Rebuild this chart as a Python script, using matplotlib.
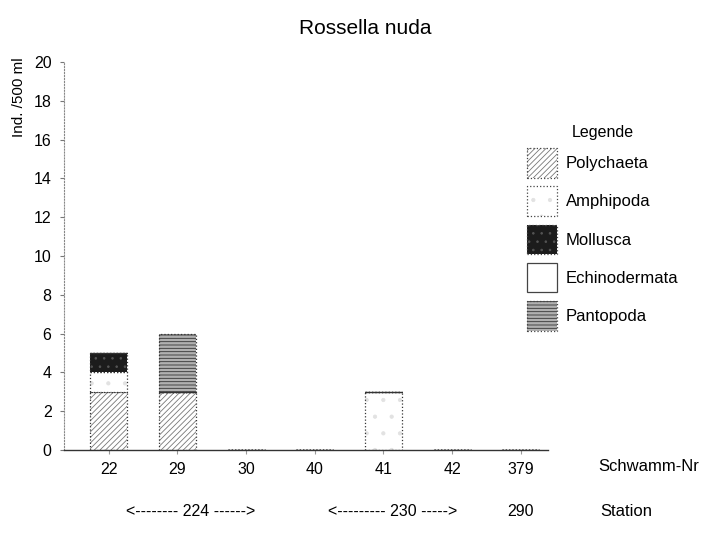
import matplotlib
matplotlib.use("Agg")
import matplotlib.pyplot as plt
from matplotlib.patches import Patch
from matplotlib.legend_handler import HandlerTuple
import numpy as np

plt.rcParams['font.family'] = ['Liberation Sans', 'DejaVu Sans']
plt.rcParams['hatch.linewidth'] = 0.6

sponges = ["22", "29", "30", "40", "41", "42", "379"]
stations = ["<-------- 224 ------>", "<--------- 230 ----->", "290"]
series = ["Polychaeta", "Amphipoda", "Mollusca", "Echinodermata", "Pantopoda"]
polychaeta = [3, 3, 0, 0, 0, 0, 0]
amphipoda = [1, 0, 0, 0, 3, 0, 0]
mollusca = [1, 0, 0, 0, 0, 0, 0]
echinodermata = [0, 0, 0, 0, 0, 0, 0]
pantopoda = [0, 3, 0, 0, 0, 0, 0]
yticks = list(range(0, 21, 2))

styles = {
    "Polychaeta": dict(facecolor="white", hatch="//////", hcolor="#777777", ls=":"),
    "Amphipoda": dict(facecolor="white", hatch=".", hcolor="#e2e2e2", ls=":"),
    "Mollusca": dict(facecolor="#1c1c1c", hatch="..", hcolor="#555555", ls=":"),
    "Echinodermata": dict(facecolor="white", hatch=None, hcolor="#555555", ls="-"),
    "Pantopoda": dict(facecolor="#b0b0b0", hatch="-----", hcolor="#333333", ls=":"),
}
data = [polychaeta, amphipoda, mollusca, echinodermata, pantopoda]

fig = plt.figure(figsize=(7.12, 5.48), dpi=100)
ax = fig.add_axes([0.09, 0.179, 0.68, 0.708])

x = np.arange(len(sponges))
bottom = np.zeros(len(sponges))
w = 0.54
for name, vals in zip(series, data):
    st = styles[name]
    vals = np.array(vals, dtype=float)
    ax.bar(x, vals, w, bottom=bottom, facecolor=st["facecolor"],
           hatch=st["hatch"], edgecolor=st["hcolor"], linewidth=0.0)
    ax.bar(x, vals, w, bottom=bottom, facecolor="none", edgecolor="#333333",
           linewidth=0.9, linestyle=st["ls"])
    bottom += vals

ax.set_ylim(0, 20)
ax.set_xlim(-0.65, 6.4)
ax.set_yticks(yticks)
ax.set_xticks(x)
ax.set_xticklabels(sponges, fontsize=11.5)
ax.tick_params(axis='y', labelsize=11.5, length=3, color="#777777", pad=6)
ax.tick_params(axis='x', length=3, color="#999999", pad=6)
for s in ["top", "right"]:
    ax.spines[s].set_visible(False)
ax.spines["left"].set_linestyle(":")
ax.spines["left"].set_color("#888888")
ax.spines["left"].set_linewidth(0.8)
ax.spines["bottom"].set_color("#333333")
ax.spines["bottom"].set_linewidth(1.0)

fig.text(365 / 712, 1 - 28 / 548, "Rossella nuda", ha="center", va="center", fontsize=15)
fig.text(0.026, 0.895, "Ind. /500 ml", rotation=90, ha="center", va="top", fontsize=11)

tr = ax.get_xaxis_transform()
ax.text(7.87, -0.044, "Schwamm-Nr", transform=tr, ha="center", va="center", fontsize=12)
ax.text(1.19, -0.16, stations[0], transform=tr, ha="center", va="center", fontsize=11.5)
ax.text(4.14, -0.16, stations[1], transform=tr, ha="center", va="center", fontsize=11.5)
ax.text(6.0, -0.16, stations[2], transform=tr, ha="center", va="center", fontsize=11.5)
ax.text(7.54, -0.16, "Station", transform=tr, ha="center", va="center", fontsize=12)

handles = []
for name in series:
    st = styles[name]
    fill = Patch(facecolor=st["facecolor"], hatch=st["hatch"],
                 edgecolor=st["hcolor"], linewidth=0.0)
    outline = Patch(facecolor="none", edgecolor="#444444", linewidth=0.9,
                    linestyle=st["ls"])
    handles.append((fill, outline))
leg = fig.legend(handles, series, loc="upper left", bbox_to_anchor=(0.719, 0.80),
                 frameon=False, title="Legende", fontsize=12, title_fontsize=11.5,
                 handlelength=1.8, handleheight=2.35, labelspacing=0.52,
                 handletextpad=0.55,
                 handler_map={tuple: HandlerTuple(ndivide=1, pad=0)})

fig.savefig("out.png", dpi=100)
